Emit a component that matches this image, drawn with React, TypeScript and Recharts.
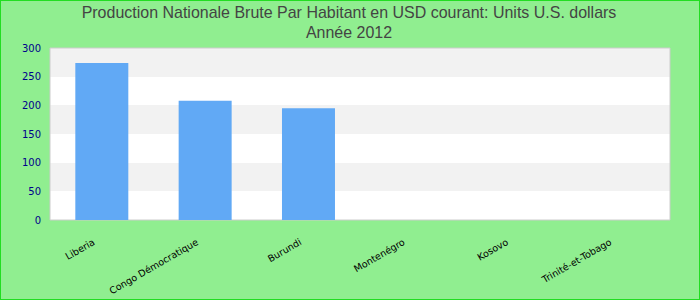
import React from "react";
import { BarChart, Bar, XAxis, YAxis, CartesianGrid, ReferenceArea } from "recharts";

const countries = ["Liberia", "Congo Démocratique", "Burundi", "Montenégro", "Kosovo", "Trinité-et-Tobago"];
const values: (number | null)[] = [274, 208, 195, null, null, null];
const yTicks = [0, 50, 100, 150, 200, 250, 300];
const titleLine1 = "Production Nationale Brute Par Habitant en USD courant: Units U.S. dollars";
const titleLine2 = "Année 2012";

const data = countries.map((name, i) => ({ name, value: values[i] }));

const XTick = (props: any) => {
  const { x, y, payload } = props;
  return (
    <g transform={`translate(${x - 6},${y + 16})`}>
      <text
        x={0}
        y={0}
        textAnchor="end"
        transform="rotate(-30)"
        fill="#000"
        fontSize={9.5}
        fontFamily="DejaVu Sans"
      >
        {payload.value}
      </text>
    </g>
  );
};

export default function App() {
  return (
    <div
      style={{
        position: "fixed",
        left: 0,
        top: 0,
        width: 700,
        height: 300,
        background: "#90ee90",
        border: "1px solid #22dd22",
        boxSizing: "border-box",
      }}
    >
      <div
        style={{
          position: "absolute",
          left: -2,
          top: 2,
          width: 700,
          textAlign: "center",
          fontFamily: "Liberation Sans, Arial",
          fontSize: 17,
          lineHeight: "20px",
          color: "#444",
          transform: "scaleX(0.94)",
        }}
      >
        <div>{titleLine1}</div>
        <div>{titleLine2}</div>
      </div>
      <div style={{ position: "absolute", left: -1, top: -1 }}>
        <BarChart
          width={700}
          height={300}
          data={data}
          margin={{ top: 48, right: 30, bottom: 0, left: 8 }}
          barCategoryGap="24.5%"
        >
          <CartesianGrid
            vertical={false}
            horizontal={true}
            stroke="none"
            horizontalFill={["#f2f2f2", "#ffffff"]}
            fillOpacity={1}
          />
          <ReferenceArea y1={0} y2={300} fill="none" stroke="#cccccc" strokeWidth={1} ifOverflow="extendDomain" />
          <XAxis
            dataKey="name"
            interval={0}
            height={80}
            tick={<XTick />}
            tickLine={false}
            axisLine={false}
          />
          <YAxis
            domain={[0, 300]}
            ticks={yTicks}
            width={42}
            tickLine={false}
            axisLine={false}
            tickMargin={3}
            tick={{ fill: "#00008b", fontSize: 10, fontFamily: "DejaVu Sans" }}
          />
          <Bar dataKey="value" fill="#61a9f5" isAnimationActive={false} />
        </BarChart>
      </div>
    </div>
  );
}
